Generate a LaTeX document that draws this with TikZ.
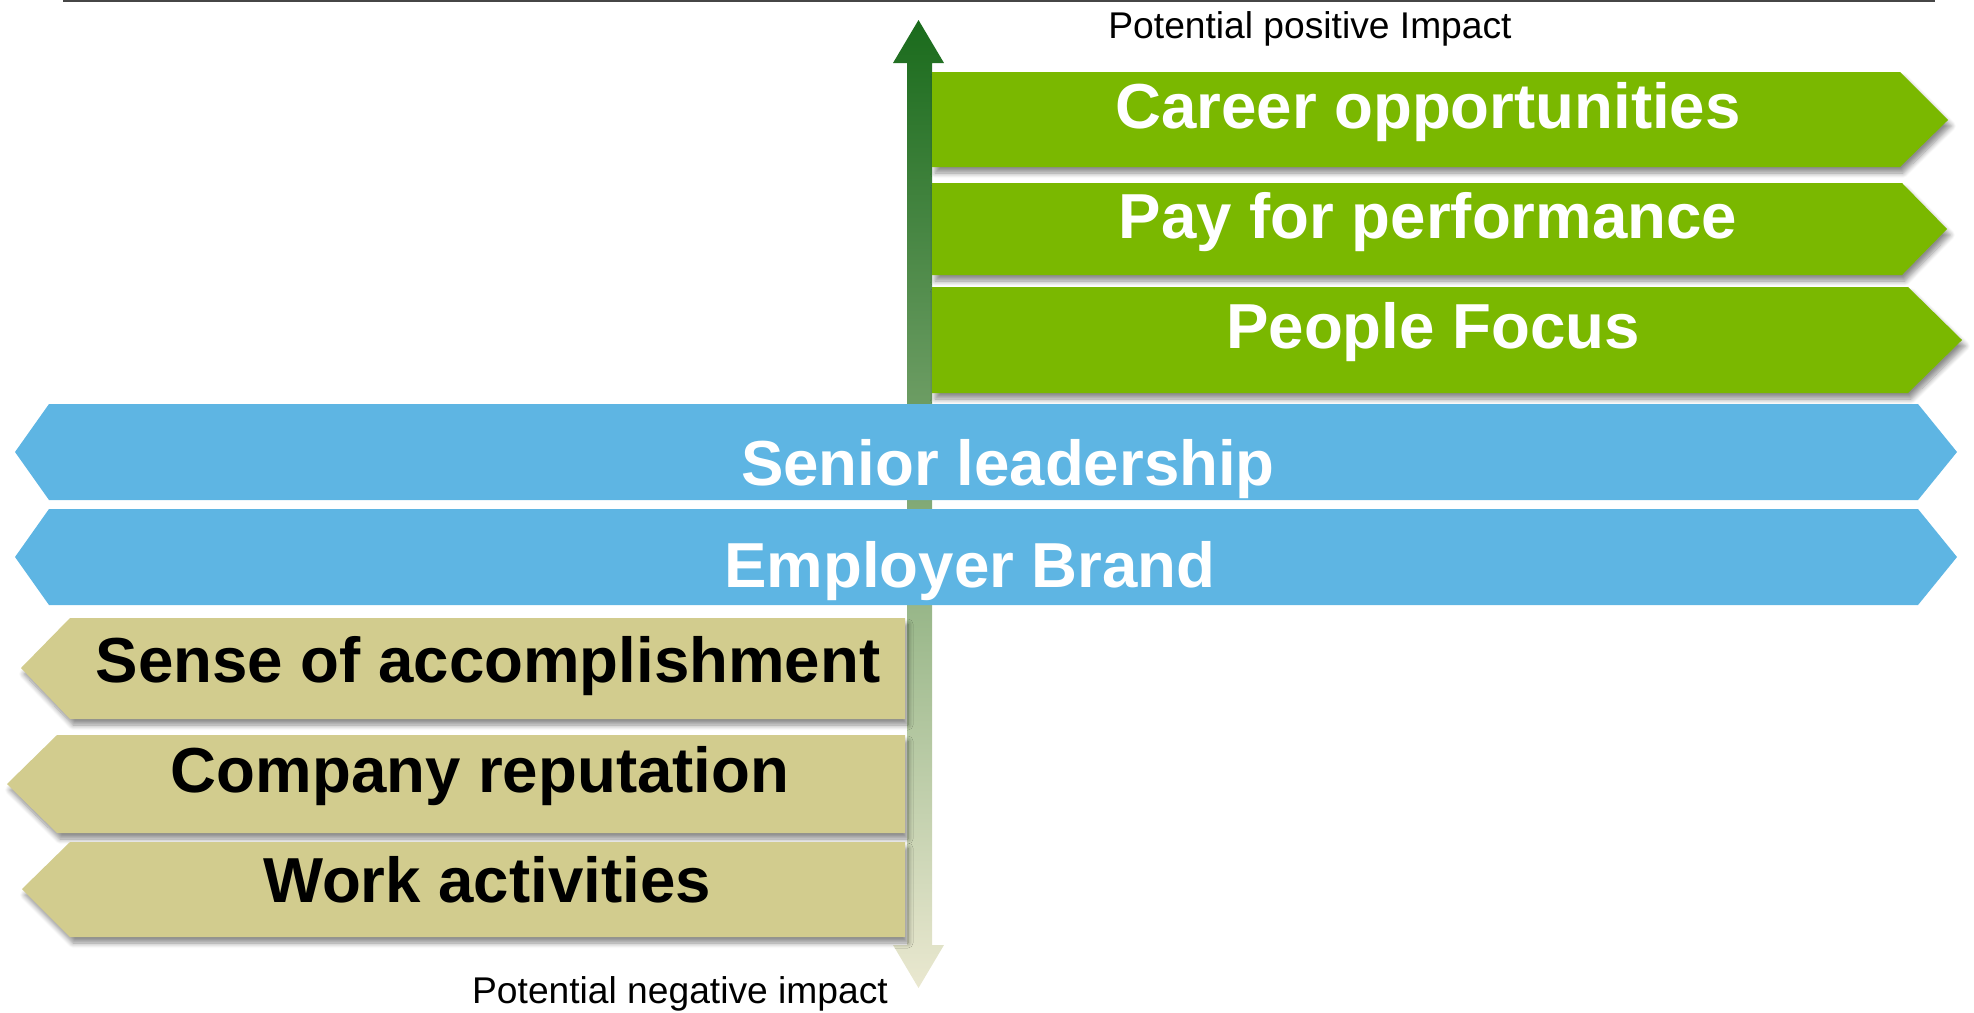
\documentclass[tikz,border=0pt]{standalone}
\usepackage{fontspec}
\setmainfont{Liberation Sans}
\usetikzlibrary{shadows.blur}

\definecolor{bandgreen}{RGB}{122,184,0}
\definecolor{bandblue}{RGB}{94,181,227}
\definecolor{bandtan}{RGB}{210,204,142}
\definecolor{axistop}{RGB}{26,107,28}
\definecolor{axismid}{RGB}{138,175,100}
\definecolor{axisbot}{RGB}{234,232,208}
\definecolor{rulegray}{RGB}{70,70,70}

\tikzset{
  softshadow/.style={blur shadow={shadow xshift=1.5pt, shadow yshift=-3pt,
      shadow blur radius=2.5pt, shadow blur steps=8, shadow opacity=45}},
  greenband/.style={fill=bandgreen, softshadow},
  blueband/.style={fill=bandblue},
  tanband/.style={fill=bandtan, softshadow},
  bigwhite/.style={anchor=base, inner sep=0pt, text=white,
      font=\bfseries\fontsize{31.8}{36}\selectfont},
  bigblack/.style={anchor=base, inner sep=0pt, text=black,
      font=\bfseries\fontsize{31.8}{36}\selectfont},
  axislabel/.style={anchor=base, inner sep=0pt, text=black,
      font=\fontsize{18.6}{22}\selectfont},
}

\begin{document}
\begin{tikzpicture}[x=0.5pt,y=-0.5pt]
\useasboundingbox (0,0) rectangle (1974,1012);

% thin rule along the top edge
\coordinate (ruleL) at (63,1);
\coordinate (ruleR) at (1935,1);
\draw[rulegray, line width=0.6pt] (ruleL) -- (ruleR);

% vertical impact axis: double-headed arrow with a green-to-beige shading
\coordinate (axisTop) at (918.5,20);
\coordinate (axisBot) at (918.5,988);
\shade[top color=axistop, middle color=axismid, bottom color=axisbot]
  (axisTop) -- (944,63) -- (932,63) -- (932,945) -- (944,945) -- (axisBot)
  -- (893,945) -- (907,945) -- (907,63) -- (893,63) -- cycle;

% positive-impact banners (pointing right)
\fill[greenband] (932,72) -- (1900,72) -- (1948,120) -- (1900,167) -- (932,167) -- cycle;
\fill[greenband] (932,183) -- (1902,183) -- (1947,229) -- (1902,275) -- (932,275) -- cycle;
\fill[greenband] (932,287) -- (1908,287) -- (1962,340) -- (1908,393) -- (932,393) -- cycle;

% two-way banners
\fill[blueband] (15,452) -- (49,404) -- (1918,404) -- (1957,452) -- (1918,500) -- (49,500) -- cycle;
\fill[blueband] (15,557) -- (49,509) -- (1918,509) -- (1957,557) -- (1918,605) -- (49,605) -- cycle;

% negative-impact banners (pointing left)
\fill[tanband] (21,668) -- (70,618) -- (905,618) -- (905,719) -- (70,719) -- cycle;
\fill[tanband] (7,784) -- (57,735) -- (905,735) -- (905,833) -- (57,833) -- cycle;
\fill[tanband] (22,889) -- (70,842) -- (905,842) -- (905,937) -- (70,937) -- cycle;

% banner labels
\node[bigwhite] (career)  at (1428,128) {Career opportunities};
\node[bigwhite] (pay)     at (1428,238) {Pay for performance};
\node[bigwhite] (people)  at (1433,348) {People Focus};
\node[bigwhite] (senior)  at (1008,485) {Senior leadership};
\node[bigwhite] (brand)   at (970,587)  {Employer Brand};
\node[bigblack] (sense)   at (488,682)  {Sense of accomplishment};
\node[bigblack] (company) at (480,792)  {Company reputation};
\node[bigblack] (work)    at (487,902)  {Work activities};

% axis end labels
\node[axislabel] (pos) at (1310,38)  {Potential positive Impact};
\node[axislabel] (neg) at (680,1003) {Potential negative impact};
\end{tikzpicture}
\end{document}
